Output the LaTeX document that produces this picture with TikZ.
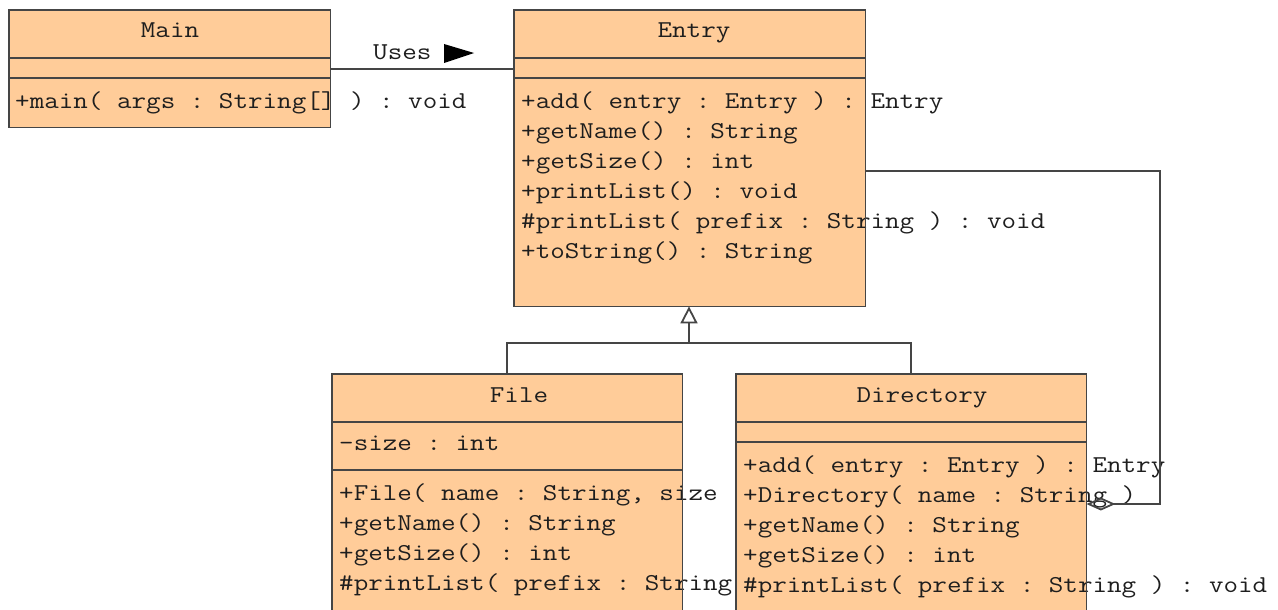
\documentclass[tikz,border=0pt]{standalone}
\usepackage{fontspec}
\setmonofont{Latin Modern Mono}[FakeStretch=1.168]
\usetikzlibrary{arrows.meta}
\definecolor{umlfill}{HTML}{FFCC99}
\definecolor{umlline}{HTML}{454545}
\definecolor{umltext}{HTML}{1E1E1E}
\tikzstyle{classbox} = [rectangle, fill=umlfill, inner sep=0pt, anchor=north west]
\tikzstyle{border} = [draw=umlline, line width=1.8pt]
\tikzstyle{title} = [font=\ttfamily\fontsize{24.2}{29}\selectfont, text=umltext, inner sep=0pt, anchor=base]
\tikzstyle{member} = [title, anchor=base west]
\tikzstyle{link} = [umlline, line width=1.8pt]

\begin{document}
\begin{tikzpicture}[x=1pt,y=-1pt]
\useasboundingbox (0,0) rectangle (1278,610);

% Class boxes
\node (Main) [classbox, minimum width=321pt, minimum height=117pt] at (9,10) {};
\node (Entry) [classbox, minimum width=351pt, minimum height=296pt] at (514,10) {};
\node (File) [classbox, minimum width=350pt, minimum height=260pt] at (332,374) {};
\node (Directory) [classbox, minimum width=350pt, minimum height=260pt] at (736,374) {};

% Main
\node (mainName) [title] at (170,38) {Main};
\node (mainOp) [member] at (15,108) {+main( args : String[] ) : void};

% Entry
\node (entryName) [title] at (694,38) {Entry};
\node (entryOp1) [member] at (521,108) {+add( entry : Entry ) : Entry};
\node (entryOp2) [member] at (521,138) {+getName() : String};
\node (entryOp3) [member] at (521,168) {+getSize() : int};
\node (entryOp4) [member] at (521,198) {+printList() : void};
\node (entryOp5) [member] at (521,228) {\#printList( prefix : String ) : void};
\node (entryOp6) [member] at (521,258) {+toString() : String};

% File
\node (fileName) [title] at (519,402) {File};
\node (fileAttr) [member] at (339,450) {-size : int};
\node (fileOp1) [member] at (339,500) {+File( name : String, size};
\node (fileOp2) [member] at (339,530) {+getName() : String};
\node (fileOp3) [member] at (339,560) {+getSize() : int};
\node (fileOp4) [member] at (339,590) {\#printList( prefix : String};

% Directory
\node (dirName) [title] at (922,402) {Directory};
\node (dirOp1) [member] at (743,472) {+add( entry : Entry ) : Entry};
\node (dirOp2) [member] at (743,502) {+Directory( name : String )};
\node (dirOp3) [member] at (743,532) {+getName() : String};
\node (dirOp4) [member] at (743,562) {+getSize() : int};
\node (dirOp5) [member] at (743,592) {\#printList( prefix : String ) : void};

% Borders and compartments
\foreach \c in {Main,Entry,File,Directory}
  \draw [border] (\c.north west) rectangle (\c.south east);
\draw [border] (Main.west |- 0,58) -- (Main.east |- 0,58);
\draw [border] (Main.west |- 0,78) -- (Main.east |- 0,78);
\draw [border] (Entry.west |- 0,58) -- (Entry.east |- 0,58);
\draw [border] (Entry.west |- 0,78) -- (Entry.east |- 0,78);
\draw [border] (File.west |- 0,422) -- (File.east |- 0,422);
\draw [border] (File.west |- 0,470) -- (File.east |- 0,470);
\draw [border] (Directory.west |- 0,422) -- (Directory.east |- 0,422);
\draw [border] (Directory.west |- 0,442) -- (Directory.east |- 0,442);

% Arrows
\draw [link] (Main.east) -- (Main.east -| Entry.west);
\node (uses) [member] at (373,60) {Uses};
\fill [black] (444,44) -- (474,53) -- (444,63) -- cycle;

\coordinate (hub) at (689,343);
\draw [link] (File.north) |- (hub) -| (Directory.north);
\draw [link, -{Triangle[open, length=17pt, width=17pt]}] (hub) -- (hub |- Entry.south);

\coordinate (aggtop) at (1160,171);
\coordinate (aggbot) at (1160,504);
\draw [link, {Diamond[open, length=29pt, width=13pt]}-] (Directory.east |- aggbot) -- (aggbot) -- (aggtop) -- (Entry.east |- aggtop);

\end{tikzpicture}
\end{document}
